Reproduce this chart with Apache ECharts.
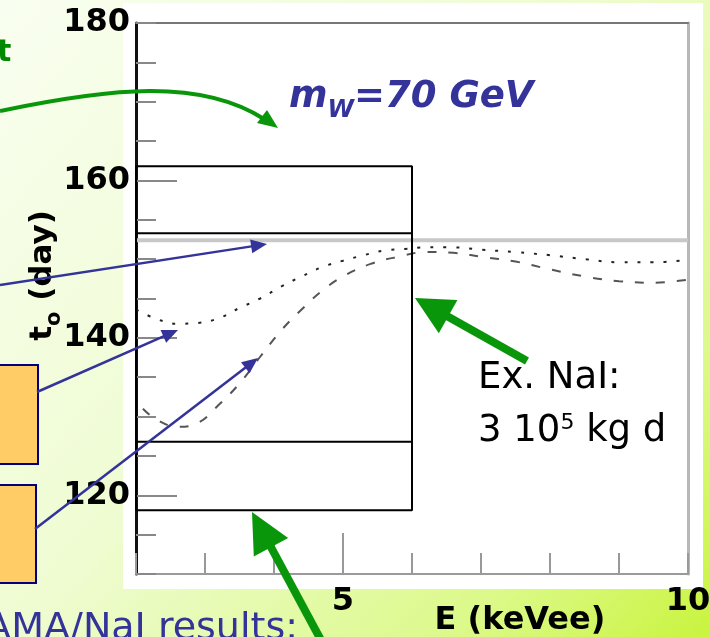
<!DOCTYPE html>
<html>
<head>
<meta charset="utf-8">
<script src="https://cdn.jsdelivr.net/npm/echarts@6/dist/echarts.min.js"></script>
<style>html,body{margin:0;padding:0;background:#fff;}#c{width:710px;height:637px;}</style>
</head>
<body>
<div id="c"></div>
<script>
// ---- data ----
const E_RANGE = [2, 10];
const T_RANGE = [110, 180];
const Y_LABELS = [120, 140, 160, 180];
const Y_MAJOR_TICKS = [120, 140, 160];
const X_LABELS = [5, 10];
const X_MAJOR_TICKS = [4, 5];

const E_DOTTED = [2.0, 2.3, 2.6, 2.9, 3.2, 3.5, 3.8, 4.1, 4.4, 4.7, 5.0, 5.3, 5.6, 5.9, 6.2, 6.6, 7.0, 7.5, 8.0, 8.5, 9.0, 9.5, 10.0];
const T_DOTTED = [143.6, 142.4, 141.8, 141.9, 142.5, 143.8, 145.0, 146.5, 147.8, 149.0, 149.8, 150.5, 151.1, 151.3, 151.5, 151.5, 151.2, 150.9, 150.5, 150.0, 149.6, 149.6, 149.9];

const E_DASHED = [2.1, 2.3, 2.6, 2.9, 3.2, 3.5, 3.8, 4.1, 4.4, 4.7, 5.0, 5.4, 5.8, 6.2, 6.6, 7.0, 7.5, 8.0, 8.5, 9.0, 9.5, 10.0];
const T_DASHED = [131.0, 129.6, 128.7, 129.2, 131.5, 134.2, 137.6, 140.9, 143.6, 146.0, 147.8, 149.4, 150.3, 150.9, 150.8, 150.3, 149.7, 148.7, 147.8, 147.2, 147.0, 147.4];

const T_REF = 152.4;
const BOX_E = [2, 6];
const BOX1_T = [126.8, 161.8];
const BOX2_T = [118.1, 153.3];

// ---- helpers ----
const zip = (a, b) => a.map((v, i) => [v, b[i]]);
const rectPath = (e, t) => [[e[0], t[0]], [e[0], t[1]], [e[1], t[1]], [e[1], t[0]], [e[0], t[0]]];
const FONT = 'DejaVu Sans';
const BLUE = '#333399';
const GREEN = '#0a960a';

function arrow(x1, y1, x2, y2, color, w, hl, hw) {
  const dx = x2 - x1, dy = y2 - y1, L = Math.hypot(dx, dy);
  const ux = dx / L, uy = dy / L, px = -uy, py = ux;
  const bx = x2 - ux * hl, by = y2 - uy * hl;
  return [
    { type: 'line', z: 100, shape: { x1: x1, y1: y1, x2: bx + ux * 2, y2: by + uy * 2 }, style: { stroke: color, lineWidth: w } },
    { type: 'polygon', z: 100, shape: { points: [[x2, y2], [bx + px * hw / 2, by + py * hw / 2], [bx - px * hw / 2, by - py * hw / 2]] }, style: { fill: color } }
  ];
}

const graphics = [
  { type: 'rect', z: -200, shape: { x: 0, y: 0, width: 710, height: 637 },
    style: { fill: new echarts.graphic.LinearGradient(0, 0, 1, 1, [
      { offset: 0, color: '#f9fef0' }, { offset: 0.45, color: '#effcd2' },
      { offset: 0.8, color: '#dcf98a' }, { offset: 1, color: '#c9f43e' }]) } },
  { type: 'rect', z: -150, shape: { x: 123, y: 3, width: 580, height: 586 }, style: { fill: '#ffffff' } },
  // orange boxes on the left
  { type: 'rect', z: 90, shape: { x: -3, y: 365, width: 41, height: 99 }, style: { fill: '#ffcc66', stroke: '#000080', lineWidth: 2 } },
  { type: 'rect', z: 90, shape: { x: -3, y: 485, width: 39, height: 98 }, style: { fill: '#ffcc66', stroke: '#000080', lineWidth: 2 } },
  // texts
  { type: 'text', z: 100, style: { text: 't', x: -3, y: 53, verticalAlign: 'middle', font: 'bold 30px "DejaVu Sans"', fill: '#008800' } },
  { type: 'text', z: 100, style: { text: '{a|m}{b|W}{a|=70 GeV}', x: 289, y: 97, verticalAlign: 'middle', fill: BLUE,
      rich: { a: { fontSize: 37, fontWeight: 'bold', fontStyle: 'italic', fontFamily: FONT, fill: BLUE },
              b: { fontSize: 24, fontWeight: 'bold', fontStyle: 'italic', fontFamily: FONT, fill: BLUE, padding: [28, 0, 0, 0] } } } },
  { type: 'text', z: 100, style: { text: 'Ex. NaI:', x: 478, y: 378, verticalAlign: 'middle', font: '37px "DejaVu Sans"', fill: '#000' } },
  { type: 'text', z: 100, style: { text: '{a|3 10}{s|5}{a| kg d}', x: 478, y: 431, verticalAlign: 'middle', fill: '#000',
      rich: { a: { fontSize: 37, fontFamily: FONT, fill: '#000' },
              s: { fontSize: 22, fontFamily: FONT, fill: '#000', padding: [0, 0, 16, 0] } } } },
  { type: 'text', z: 100, style: { text: 'DAMA/NaI results:', x: 298, y: 629, align: 'right', verticalAlign: 'middle', font: '38px "DejaVu Sans"', fill: BLUE } },
  // green curved arrow
  { type: 'bezierCurve', z: 100, shape: { x1: 0, y1: 111, cpx1: 110, cpy1: 88, cpx2: 200, cpy2: 78, x2: 264, y2: 119 }, style: { stroke: GREEN, lineWidth: 4, fill: null } },
  { type: 'polygon', z: 100, shape: { points: [[278, 128], [257, 123], [267, 110]] }, style: { fill: GREEN } }
].concat(
  arrow(527, 361, 415, 298, GREEN, 8, 38, 38),
  arrow(322, 642, 252, 512, GREEN, 8, 40, 39),
  arrow(0, 285, 267, 244, BLUE, 2.5, 16, 14),
  arrow(37, 392, 178, 330, BLUE, 2.5, 16, 14),
  arrow(35, 529, 258, 358, BLUE, 2.5, 16, 14)
);

const labelStyle = { fontSize: 32, fontWeight: 'bold', color: '#000', fontFamily: FONT };

const option = {
  animation: false,
  grid: { left: 136, right: 22, top: 23, bottom: 63, show: false, containLabel: false, outerBoundsMode: 'none' },
  graphic: graphics,
  xAxis: [
    { type: 'value', min: E_RANGE[0], max: E_RANGE[1], interval: 1, position: 'bottom',
      axisLine: { show: true, lineStyle: { color: '#9a9a9a', width: 2 } },
      axisTick: { show: true, inside: true, length: 21, lineStyle: { color: '#999', width: 2 } },
      axisLabel: Object.assign({ customValues: X_LABELS, margin: 12 }, labelStyle),
      splitLine: { show: false },
      name: 'E (keVee)', nameLocation: 'middle', nameGap: 31, nameMoveOverlap: false,
      nameTextStyle: { fontSize: 32, fontWeight: 'bold', color: '#000', fontFamily: FONT, padding: [0, 0, 0, 216] } },
    { type: 'value', min: E_RANGE[0], max: E_RANGE[1], position: 'top',
      axisLine: { show: true, lineStyle: { color: '#777', width: 2 } },
      axisTick: { show: false }, axisLabel: { show: false }, splitLine: { show: false } },
    { type: 'value', min: E_RANGE[0], max: E_RANGE[1], position: 'bottom',
      axisLine: { show: false },
      axisTick: { show: true, inside: true, length: 41, customValues: X_MAJOR_TICKS, lineStyle: { color: '#999', width: 2 } },
      axisLabel: { show: false }, splitLine: { show: false } }
  ],
  yAxis: [
    { type: 'value', min: T_RANGE[0], max: T_RANGE[1], interval: 5, position: 'left',
      axisLine: { show: true, lineStyle: { color: '#111', width: 3 } },
      axisTick: { show: true, inside: true, length: 20, lineStyle: { color: '#888', width: 2 } },
      axisLabel: Object.assign({ customValues: Y_LABELS, margin: 6 }, labelStyle),
      splitLine: { show: false },
      name: '{t|t}{o|o}{d| (day)}', nameLocation: 'middle', nameGap: 71, nameRotate: 90, nameMoveOverlap: false,
      nameTextStyle: { padding: [0, 0, 0, 46],
        rich: { t: { fontSize: 31, fontWeight: 'bold', fontFamily: FONT, color: '#000' },
                o: { fontSize: 21, fontWeight: 'bold', fontFamily: FONT, color: '#000', padding: [24, 0, 0, 0] },
                d: { fontSize: 31, fontWeight: 'bold', fontFamily: FONT, color: '#000' } } } },
    { type: 'value', min: T_RANGE[0], max: T_RANGE[1], position: 'left',
      axisLine: { show: false },
      axisTick: { show: true, inside: true, length: 41, customValues: Y_MAJOR_TICKS, lineStyle: { color: '#888', width: 2 } },
      axisLabel: { show: false }, splitLine: { show: false } },
    { type: 'value', min: T_RANGE[0], max: T_RANGE[1], position: 'right',
      axisLine: { show: true, lineStyle: { color: '#b8b8b8', width: 3 } },
      axisTick: { show: false }, axisLabel: { show: false }, splitLine: { show: false } }
  ],
  series: [
    { type: 'line', name: 'reference', data: [[E_RANGE[0], T_REF], [E_RANGE[1], T_REF]], showSymbol: false, silent: true,
      lineStyle: { color: '#c8c8c8', width: 4 }, z: 2 },
    { type: 'line', name: 'dotted', data: zip(E_DOTTED, T_DOTTED), showSymbol: false, smooth: 0.4, silent: true,
      lineStyle: { color: '#222', width: 2, type: [3, 10] }, z: 3 },
    { type: 'line', name: 'dashed', data: zip(E_DASHED, T_DASHED), showSymbol: false, smooth: 0.4, silent: true,
      lineStyle: { color: '#555', width: 2, type: [9, 12] }, z: 3 },
    { type: 'line', name: 'box1', data: rectPath(BOX_E, BOX1_T), showSymbol: false, silent: true,
      lineStyle: { color: '#000', width: 2 }, z: 4 },
    { type: 'line', name: 'box2', data: rectPath(BOX_E, BOX2_T), showSymbol: false, silent: true,
      lineStyle: { color: '#000', width: 2 }, z: 4 }
  ]
};

const chart = echarts.init(document.getElementById('c'), null, { renderer: 'canvas' });
chart.setOption(option);
</script>
</body>
</html>
